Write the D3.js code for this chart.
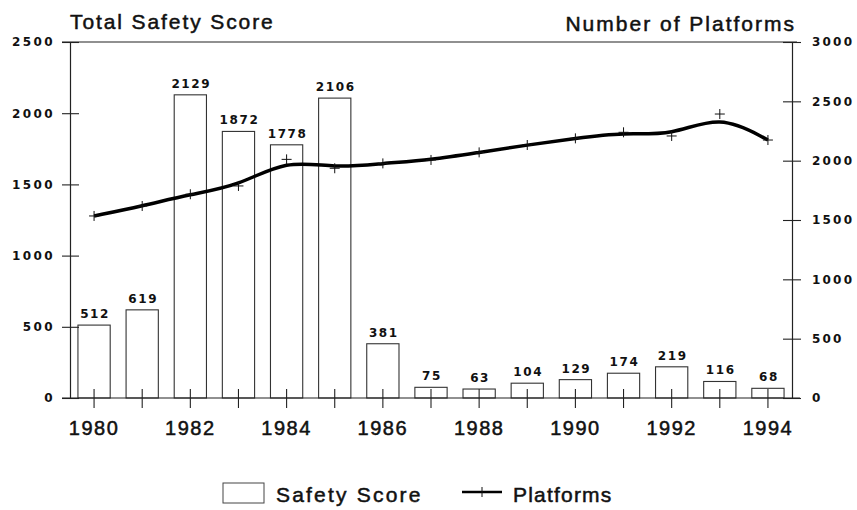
<!DOCTYPE html>
<html>
<head>
<meta charset="utf-8">
<script src="https://cdn.jsdelivr.net/npm/d3@7/dist/d3.min.js"></script>
<style>
body{margin:0;background:#fff;}
svg{display:block;}
</style>
</head>
<body>
<script>
(function(){
'use strict';

var years = [1980, 1981, 1982, 1983, 1984, 1985, 1986, 1987, 1988, 1989, 1990, 1991, 1992, 1993, 1994];
var safetyScore = [512, 619, 2129, 1872, 1778, 2106, 381, 75, 63, 104, 129, 174, 219, 116, 68];
var platforms = [1534, 1618, 1717, 1787, 2011, 1936, 1977, 2006, 2070, 2132, 2188, 2239, 2208, 2393, 2174];
var leftTicks = [0, 500, 1000, 1500, 2000, 2500];
var rightTicks = [0, 500, 1000, 1500, 2000, 2500, 3000];
var yearLabels = [1980, 1982, 1984, 1986, 1988, 1990, 1992, 1994];

var width = 857;
var height = 510;
var left = 70, right = 792, top = 42, bottom = 398;

var numFont = 'DejaVu Sans, sans-serif';
var textFont = 'Liberation Sans, Arial, sans-serif';

var svg = d3.select('body').append('svg')
	.attr('width', width)
	.attr('height', height);

var x = d3.scaleBand().domain(years).range([left, right])
	.paddingInner(0.33).paddingOuter(0.165);
var yL = d3.scaleLinear().domain([0, 2500]).range([bottom, top]);
var yR = d3.scaleLinear().domain([0, 3000]).range([bottom, top]);

function cx(year){ return x(year) + x.bandwidth() / 2; }

// frame line on top
svg.append('line')
	.attr('x1', left - 8).attr('x2', right + 5)
	.attr('y1', yL(2500)).attr('y2', yL(2500))
	.attr('stroke', '#222').attr('stroke-width', 1.2);

// bars
svg.append('g').selectAll('rect')
	.data(years)
	.enter()
	.append('rect')
	.attr('x', function(d){ return x(d); })
	.attr('width', x.bandwidth())
	.attr('y', function(d, i){ return yL(safetyScore[i]); })
	.attr('height', function(d, i){ return yL(0) - yL(safetyScore[i]); })
	.attr('fill', '#fff')
	.attr('stroke', '#333')
	.attr('stroke-width', 1.1);

svg.append('g').selectAll('text')
	.data(years)
	.enter()
	.append('text')
	.attr('x', function(d){ return cx(d) + 1; })
	.attr('y', function(d, i){ return yL(safetyScore[i]) - 7; })
	.attr('text-anchor', 'middle')
	.attr('font-family', numFont)
	.attr('font-size', 12)
	.attr('font-weight', 'bold')
	.style('letter-spacing', '1.6px')
	.attr('fill', '#111')
	.text(function(d, i){ return safetyScore[i]; });

// left axis
var gl = svg.append('g')
	.attr('transform', 'translate(' + left + ',0)')
	.call(d3.axisLeft(yL).tickValues(leftTicks).tickFormat(d3.format('d'))
		.tickSize(8).tickSizeOuter(0).tickPadding(7));
gl.selectAll('.tick line').attr('x1', 9);
gl.selectAll('text')
	.attr('font-family', numFont).attr('font-size', 12).attr('font-weight', 'bold')
	.style('letter-spacing', '2.4px').attr('fill', '#111');

// right axis
var gr = svg.append('g')
	.attr('transform', 'translate(' + right + ',0)')
	.call(d3.axisRight(yR).tickValues(rightTicks).tickFormat(d3.format('d'))
		.tickSize(9).tickSizeOuter(0).tickPadding(11));
gr.selectAll('.tick line').attr('x1', -9);
gr.selectAll('text')
	.attr('font-family', numFont).attr('font-size', 12).attr('font-weight', 'bold')
	.style('letter-spacing', '2.2px').attr('fill', '#111');

// bottom axis
var gb = svg.append('g')
	.attr('transform', 'translate(0,' + bottom + ')')
	.call(d3.axisBottom(x).tickSize(10).tickSizeOuter(0).tickPadding(13)
		.tickFormat(function(d){ return yearLabels.indexOf(d) >= 0 ? d : ''; }));
gb.select('.domain').remove();
gb.selectAll('.tick line').attr('y1', -9);
gb.selectAll('text')
	.attr('font-family', textFont).attr('font-size', 20)
	.attr('stroke', '#111').attr('stroke-width', 0.5)
	.style('letter-spacing', '1.5px').attr('fill', '#111');

svg.append('line')
	.attr('x1', left - 8).attr('x2', right + 8)
	.attr('y1', yL(0)).attr('y2', yL(0))
	.attr('stroke', '#222').attr('stroke-width', 1.2);

svg.selectAll('.domain').attr('stroke', '#222').attr('stroke-width', 1.2);
svg.selectAll('.tick line').attr('stroke', '#222').attr('stroke-width', 1.1);

// platforms line
var line = d3.line()
	.x(function(d, i){ return cx(years[i]); })
	.y(function(d){ return yR(d); })
	.curve(d3.curveBasis);

svg.append('path')
	.datum(platforms)
	.attr('d', line)
	.attr('fill', 'none')
	.attr('stroke', '#000')
	.attr('stroke-width', 3.5)
	.attr('stroke-linejoin', 'round');

svg.append('g').selectAll('path')
	.data(platforms)
	.enter()
	.append('path')
	.attr('transform', function(d, i){ return 'translate(' + cx(years[i]) + ',' + yR(d) + ')'; })
	.attr('d', 'M-5,0H5M0,-5V5')
	.attr('stroke', '#111')
	.attr('stroke-width', 1);

// titles
svg.append('text')
	.attr('x', left).attr('y', 29)
	.attr('font-family', textFont).attr('font-size', 21)
	.attr('stroke', '#111').attr('stroke-width', 0.5)
	.style('letter-spacing', '1.9px').attr('fill', '#111')
	.text('Total Safety Score');

svg.append('text')
	.attr('x', right + 4).attr('y', 31)
	.attr('text-anchor', 'end')
	.attr('font-family', textFont).attr('font-size', 21)
	.attr('stroke', '#111').attr('stroke-width', 0.5)
	.style('letter-spacing', '2px').attr('fill', '#111')
	.text('Number of Platforms');

// legend
var lg = svg.append('g');
lg.append('rect')
	.attr('x', 223).attr('y', 483).attr('width', 41).attr('height', 20)
	.attr('fill', '#fff').attr('stroke', '#444').attr('stroke-width', 1);
lg.append('text')
	.attr('x', 276).attr('y', 502)
	.attr('font-family', textFont).attr('font-size', 21)
	.attr('stroke', '#111').attr('stroke-width', 0.5)
	.style('letter-spacing', '2.2px').attr('fill', '#111')
	.text('Safety Score');
lg.append('line')
	.attr('x1', 462).attr('x2', 502).attr('y1', 492).attr('y2', 492)
	.attr('stroke', '#000').attr('stroke-width', 2.5);
lg.append('path')
	.attr('transform', 'translate(482,492)')
	.attr('d', 'M0,-5V5')
	.attr('stroke', '#111').attr('stroke-width', 1);
lg.append('text')
	.attr('x', 513).attr('y', 502)
	.attr('font-family', textFont).attr('font-size', 21)
	.attr('stroke', '#111').attr('stroke-width', 0.5)
	.style('letter-spacing', '1.2px').attr('fill', '#111')
	.text('Platforms');

})();
</script>
</body>
</html>
